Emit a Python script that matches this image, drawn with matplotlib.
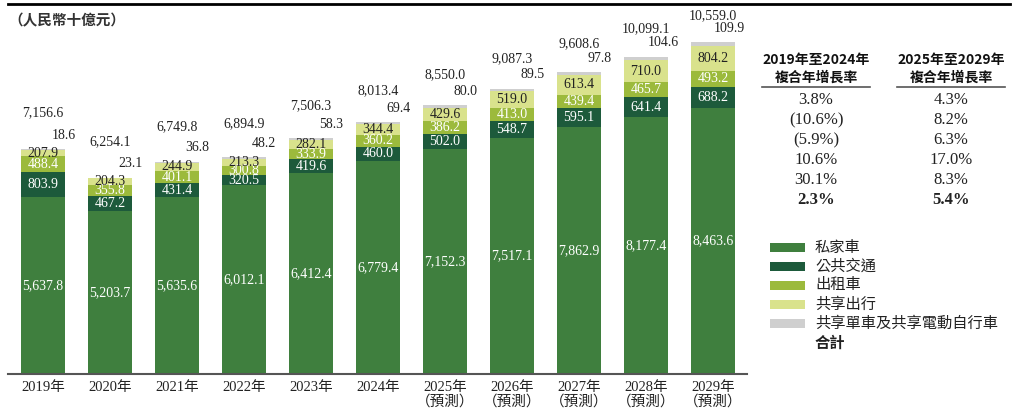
import matplotlib
matplotlib.use("Agg")
import matplotlib.pyplot as plt
import numpy as np

# ── Data ────────────────────────────────────────────────────────────────────
years = ["2019年", "2020年", "2021年", "2022年", "2023年", "2024年",
         "2025年\n（預測）", "2026年\n（預測）", "2027年\n（預測）",
         "2028年\n（預測）", "2029年\n（預測）"]
private_car = [5637.8, 5203.7, 5635.6, 6012.1, 6412.4, 6779.4, 7152.3, 7517.1, 7862.9, 8177.4, 8463.6]
public_transit = [803.9, 467.2, 431.4, 320.5, 419.6, 460.0, 502.0, 548.7, 595.1, 641.4, 688.2]
taxi = [488.4, 355.8, 401.1, 300.8, 333.9, 360.2, 386.2, 413.0, 439.4, 465.7, 493.2]
ride_hailing = [207.9, 204.3, 244.9, 213.3, 282.1, 344.4, 429.6, 519.0, 613.4, 710.0, 804.2]
bike_share = [18.6, 23.1, 36.8, 48.2, 58.3, 69.4, 80.0, 89.5, 97.8, 104.6, 109.9]
totals = [7156.6, 6254.1, 6749.8, 6894.9, 7506.3, 8013.4, 8550.0, 9087.3, 9608.6, 10099.1, 10559.0]

series_names = ["私家車", "公共交通", "出租車", "共享出行", "共享單車及共享電動自行車"]
cagr_19_24 = ["3.8%", "(10.6%)", "(5.9%)", "10.6%", "30.1%", "2.3%"]
cagr_25_29 = ["4.3%", "8.2%", "6.3%", "17.0%", "8.3%", "5.4%"]

colors = ["#3f7f3e", "#1d5a3b", "#9cba3c", "#d9e28c", "#cfcfcf"]
label_colors = ["white", "white", "white", "#222222", None]

SERIF = ["Liberation Serif", "Noto Sans CJK TC"]
CJK = ["Noto Sans CJK TC", "DejaVu Sans"]

W, H = 1019, 417
fig = plt.figure(figsize=(W / 100, H / 100), dpi=100)

# axes placed in pixel space: x 8..747, y 4..374
ax = fig.add_axes([8 / W, (H - 374) / H, 739 / W, 370 / H])
x = np.arange(len(years))
ax.set_xlim(-0.522, 10.507)
ax.set_ylim(0, 11780)

stack = [private_car, public_transit, taxi, ride_hailing, bike_share]
bottom = np.zeros(len(years))
bw = 0.67
for vals, col, lc in zip(stack, colors, label_colors):
    vals = np.array(vals)
    ax.bar(x, vals, bw, bottom=bottom, color=col, linewidth=0)
    if lc is not None:
        for xi, b, v in zip(x, bottom, vals):
            ax.text(xi, b + v / 2, f"{v:,.1f}", ha="center", va="center",
                    color=lc, fontsize=10, family=SERIF)
    bottom += vals

for xi, top, bs, tot in zip(x, bottom, bike_share, totals):
    ax.annotate(f"{bs:,.1f}", (xi + bw / 2, top), xytext=(10, 14),
                textcoords="offset pixels", ha="right", va="center",
                fontsize=10, family=SERIF, color="#222222")
    # total labels sit a little closer to the bar on the taller (later) bars
    ax.annotate(f"{tot:,.1f}", (xi, top), xytext=(0, 37 - xi),
                textcoords="offset pixels", ha="center", va="center",
                fontsize=10, family=SERIF, color="#222222")

ax.set_xticks(x)
ax.set_xticklabels(years, family=SERIF, fontsize=10.5, color="#222222", linespacing=1.1)
ax.tick_params(axis="x", length=0, pad=5)
ax.set_yticks([])
for s in ["top", "left", "right"]:
    ax.spines[s].set_visible(False)
ax.spines["bottom"].set_color("#555555")
ax.spines["bottom"].set_linewidth(1.5)

# top rule and unit label
fig.add_artist(plt.Line2D([8 / W, 1010 / W], [1 - 4 / H, 1 - 4 / H], color="black", lw=2))
fig.text(8 / W, 1 - 20 / H, "（人民幣十億元）", family=CJK, fontsize=10.5,
         fontweight="bold", color="#333333", va="center", ha="left")

# ── CAGR table ──────────────────────────────────────────────────────────────
def fx(px):
    return px / W

def fy(py):
    return 1 - py / H

for cx, head, vals in [(816, "2019年至2024年", cagr_19_24), (951, "2025年至2029年", cagr_25_29)]:
    fig.text(fx(cx), fy(60), head, family=CJK, fontsize=10, fontweight="bold",
             ha="center", va="center", color="#111111")
    fig.text(fx(cx), fy(78), "複合年增長率", family=CJK, fontsize=10, fontweight="bold",
             ha="center", va="center", color="#111111")
    fig.add_artist(plt.Line2D([fx(cx - 54), fx(cx + 54)], [fy(87), fy(87)], color="#555555", lw=1.2))
    for i, v in enumerate(vals):
        fig.text(fx(cx), fy(100 + 20 * i), v, family=SERIF, fontsize=12,
                 fontweight="bold" if i == len(vals) - 1 else "normal",
                 ha="center", va="center", color="#222222")

# ── Legend ─────────────────────────────────────────────────────────────────
for i, (name, col) in enumerate(zip(series_names, colors)):
    py = 247 + 19 * i
    fig.add_artist(plt.Rectangle((fx(770), fy(py + 4.5)), 35 / W, 9 / H, color=col, lw=0))
    fig.text(fx(815), fy(py), name, family=CJK, fontsize=11, ha="left", va="center", color="#222222")
fig.text(fx(815), fy(343), "合計", family=CJK, fontsize=11, fontweight="bold",
         ha="left", va="center", color="#222222")

fig.savefig("out.png", dpi=100)
